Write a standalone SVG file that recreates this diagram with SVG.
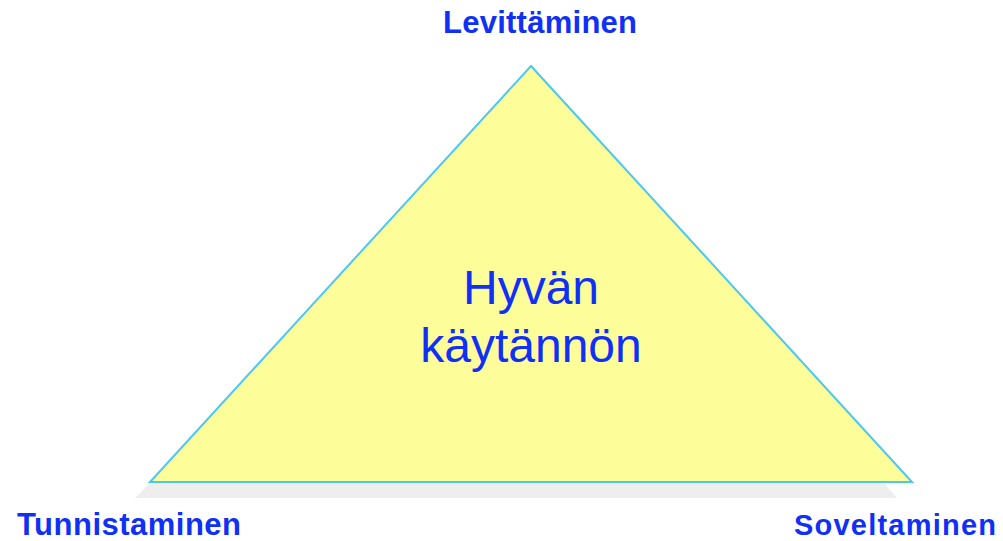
<svg xmlns="http://www.w3.org/2000/svg" width="1003" height="541" viewBox="0 0 1003 541">
<style>
.lbl{font-family:"Liberation Sans",Arial,sans-serif;font-weight:bold;font-size:31px;fill:#1030F5}
.ctr{font-family:"Liberation Sans",Arial,sans-serif;font-size:48px;fill:#1030F5;text-anchor:middle}
</style>
<rect width="1003" height="541" fill="#ffffff"/>
<g id="triangle">
<polygon points="150,483 884,483 897,498 135,498" fill="#EEEEEE"/>
<polygon points="531,66 912,482 150,482" fill="#FDFD9A" stroke="#4CC8F0" stroke-width="2" stroke-linejoin="miter"/>
<text class="ctr" x="531" y="304">Hyvän</text>
<text class="ctr" x="531" y="362">käytännön</text>
</g>
<g id="top"><text class="lbl" x="540" y="33" text-anchor="middle" textLength="194">Levittäminen</text></g>
<g id="left"><text class="lbl" x="17" y="535" textLength="224">Tunnistaminen</text></g>
<g id="right"><text class="lbl" x="794" y="535" textLength="202" style="font-size:29px">Soveltaminen</text></g>
<g id="connectors"/>
</svg>
